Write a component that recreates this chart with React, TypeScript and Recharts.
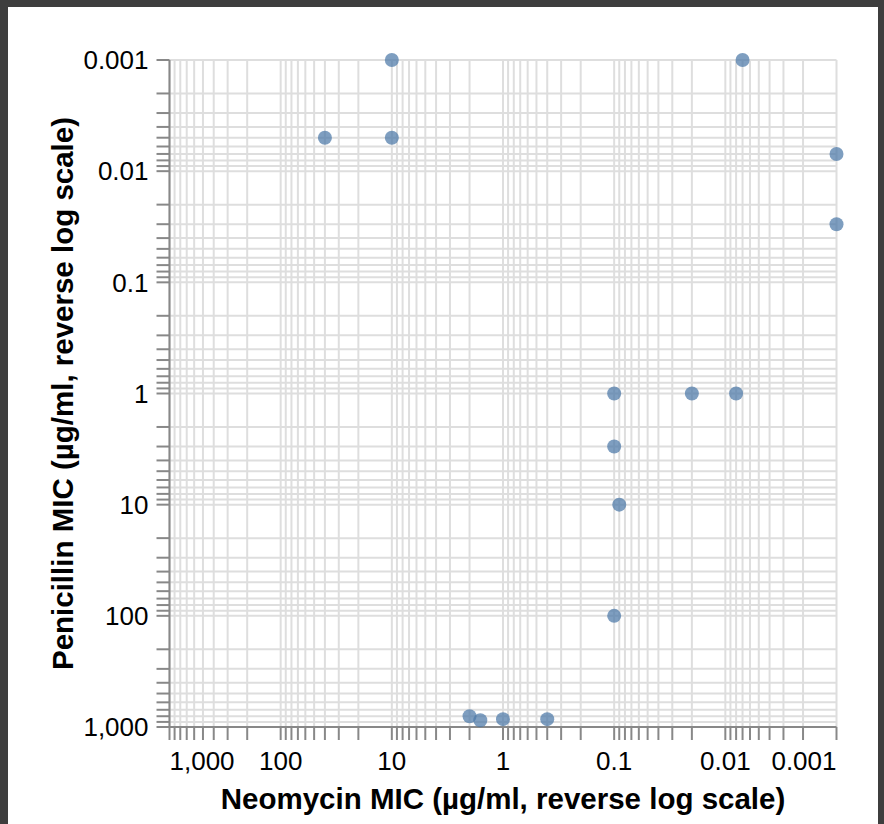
import React from 'react';
import { ScatterChart, Scatter, XAxis, YAxis, CartesianGrid, Label } from 'recharts';

const bacteria = [
  'Aerobacter aerogenes', 'Bacillus anthracis', 'Brucella abortus', 'Diplococcus pneumoniae',
  'Escherichia coli', 'Klebsiella pneumoniae', 'Mycobacterium tuberculosis', 'Proteus vulgaris',
  'Pseudomonas aeruginosa', 'Salmonella (Eberthella) typhosa', 'Salmonella schottmuelleri',
  'Staphylococcus albus', 'Staphylococcus aureus', 'Streptococcus fecalis',
  'Streptococcus hemolyticus', 'Streptococcus viridans',
];
const neomycin = [1.6, 0.007, 0.02, 10, 0.1, 1, 2, 0.1, 0.4, 0.008, 0.09, 0.001, 0.001, 0.1, 10, 40];
const penicillin = [870, 0.001, 1, 0.005, 100, 850, 800, 3, 850, 1, 10, 0.007, 0.03, 1, 0.001, 0.005];

const decadeTicks = [0.001, 0.01, 0.1, 1, 10, 100, 1000];
const decadeLabels = ['0.001', '0.01', '0.1', '1', '10', '100', '1,000'];
const minorMultipliers = [1, 2, 3, 4, 5, 6, 7, 8, 9];

const allTicks: number[] = [];
decadeTicks.slice(0, -1).forEach((d) => {
  minorMultipliers.forEach((m) => allTicks.push(parseFloat((d * m).toPrecision(6))));
});
allTicks.push(decadeTicks[decadeTicks.length - 1]);

const data = bacteria.map((name, i) => ({ name, neomycin: neomycin[i], penicillin: penicillin[i] }));

const FONT = '"Liberation Sans", Arial, Helvetica, sans-serif';
const LABEL_SIZE = 26;
const TITLE_SIZE = 29.5;

const decadeIndex = (v: number) => decadeTicks.findIndex((d) => Math.abs(d - v) / d < 1e-6);

const XTick = (props: any) => {
  const { x, y, payload } = props;
  const idx = decadeIndex(payload.value);
  if (idx < 0) return <g />;
  const anchor = idx === decadeTicks.length - 1 ? 'start' : idx === 0 ? 'end' : 'middle';
  return (
    <text x={x} y={y} dy="0.71em" textAnchor={anchor} fontFamily={FONT} fontSize={LABEL_SIZE} fill="#000">
      {decadeLabels[idx]}
    </text>
  );
};

const YTick = (props: any) => {
  const { x, y, payload } = props;
  const idx = decadeIndex(payload.value);
  if (idx < 0) return <g />;
  return (
    <text x={x} y={y} dy="0.355em" textAnchor="end" fontFamily={FONT} fontSize={LABEL_SIZE} fill="#000">
      {decadeLabels[idx]}
    </text>
  );
};

const XTitle = (props: any) => {
  const vb = props.viewBox;
  return (
    <text x={vb.x + vb.width / 2} y={vb.y + 82} textAnchor="middle" fontFamily={FONT} fontSize={TITLE_SIZE} fontWeight="bold" fill="#000">
      Neomycin MIC (µg/ml, reverse log scale)
    </text>
  );
};

const YTitle = (props: any) => {
  const vb = props.viewBox;
  const cx = vb.x + 3;
  const cy = vb.y + vb.height / 2;
  return (
    <text x={cx} y={cy} transform={`rotate(-90, ${cx}, ${cy})`} textAnchor="middle" fontFamily={FONT} fontSize={TITLE_SIZE} fontWeight="bold" fill="#000">
      Penicillin MIC (µg/ml, reverse log scale)
    </text>
  );
};

const Dot = (props: any) => {
  const { cx, cy } = props;
  return <circle cx={cx} cy={cy} r={7} fill="#4c78a8" fillOpacity={0.72} />;
};

export default function App() {
  return (
    <div style={{ position: 'absolute', left: 0, top: 0, width: 884, height: 824, background: '#3e3e3e', overflow: 'hidden' }}>
      <div style={{ position: 'absolute', left: 8, top: 7, width: 870, height: 817, background: '#fff' }} />
      <div style={{ position: 'absolute', left: 0, top: 0 }}>
        <ScatterChart width={884} height={824} margin={{ top: 60, right: 47.5, bottom: 37, left: 69.5 }}>
          <CartesianGrid stroke="#dedede" strokeWidth={2} />
          <XAxis
            type="number"
            dataKey="neomycin"
            scale="log"
            domain={[0.001, 1000]}
            reversed
            ticks={allTicks}
            interval={0}
            height={60}
            tickSize={13}
            tickMargin={12}
            tick={XTick}
            axisLine={{ stroke: '#888', strokeWidth: 2 }}
            tickLine={{ stroke: '#888', strokeWidth: 2 }}
          >
            <Label content={XTitle} />
          </XAxis>
          <YAxis
            type="number"
            dataKey="penicillin"
            scale="log"
            domain={[0.001, 1000]}
            reversed
            ticks={allTicks}
            interval={0}
            width={100}
            tickSize={13}
            tickMargin={8}
            tick={YTick}
            axisLine={{ stroke: '#888', strokeWidth: 2 }}
            tickLine={{ stroke: '#888', strokeWidth: 2 }}
          >
            <Label content={YTitle} />
          </YAxis>
          <Scatter data={data} shape={Dot} isAnimationActive={false} />
        </ScatterChart>
      </div>
    </div>
  );
}
